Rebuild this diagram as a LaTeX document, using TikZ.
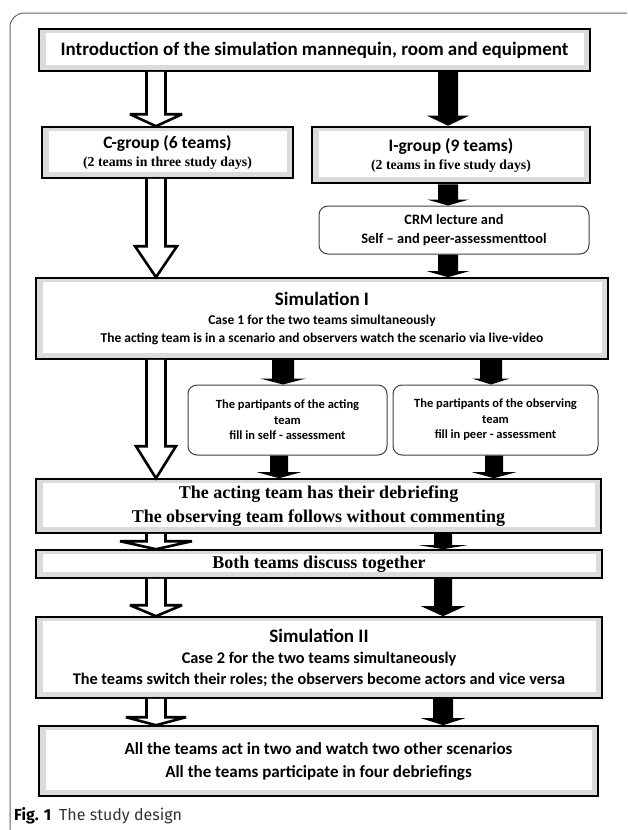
\documentclass[tikz,border=0pt]{standalone}
\usepackage{fontspec}
\setmainfont{Carlito}
\newfontfamily\cambr{Liberation Serif}
\newfontfamily\figfont{Fira Sans}
\usetikzlibrary{calc}

\begin{document}
\begin{tikzpicture}[x=1pt,y=-1pt,
  gbox/.style={draw,line width=1.6pt,fill=black!14,inner sep=0pt,align=center,
    path picture={\fill[white] ([shift={(7pt,6pt)}]path picture bounding box.south west)
      rectangle ([shift={(-6pt,-4pt)}]path picture bounding box.north east);}},
  rbox/.style={draw=black!75,line width=1pt,rounded corners=9pt,fill=white,inner sep=0pt,align=center},
  barrow/.style n args={3}{to path={let \p1=(\tikztostart),\p2=(\tikztotarget) in
    (\x1-#1,\y1) -- (\x1-#1,\y2+#3) -- (\x1-#2,\y2+#3) -- (\x1,\y2)
    -- (\x1+#2,\y2+#3) -- (\x1+#1,\y2+#3) -- (\x1+#1,\y1)}},
  hollow/.style={draw,line width=2.6pt,fill=white,miter limit=3},
  blackfill/.style={fill=black}]
\useasboundingbox (0,0) rectangle (627,830);
\draw[black!60,line width=1pt,rounded corners=14pt] (627,13) -- (10,13) -- (10,832);

\node[gbox,minimum width=551pt,minimum height=42pt,font=\fontsize{19}{22}\selectfont\bfseries] (intro) at (314.5,50)
  {Introduction of the simulation mannequin, room and equipment};
\node[gbox,minimum width=251pt,minimum height=51pt,font=\fontsize{17.5}{18}\selectfont\bfseries] (cgrp) at (167.5,152.5)
  {C-group (6 teams)\\{\cambr\fontsize{13.8}{16}\selectfont\bfseries (2 teams in three study days)}};
\node[gbox,line width=2.6pt,minimum width=278pt,minimum height=56pt,font=\fontsize{17.5}{18}\selectfont\bfseries] (igrp) at (451,155)
  {I-group (9 teams)\\{\cambr\fontsize{13.8}{16}\selectfont\bfseries (2 teams in five study days)}};
\node[rbox,minimum width=270pt,minimum height=48pt,font=\fontsize{14.4}{19}\selectfont\bfseries] (crm) at (454,230)
  {CRM lecture and\\Self – and peer-assessmenttool};
\node[gbox,minimum width=572pt,minimum height=81pt,font=\fontsize{13.5}{18.5}\selectfont\bfseries] (sim1) at (322,318.5)
  {{\fontsize{19}{18}\selectfont Simulation I}\\Case 1 for the two teams simultaneously\\
   The acting team is in a scenario and observers watch the scenario via live-video};
\node[rbox,minimum width=199pt,minimum height=70pt,font=\fontsize{12.5}{15.5}\selectfont\bfseries] (partA) at (287.5,420)
  {The partipants of the acting\\team\\fill in self - assessment};
\node[rbox,minimum width=205pt,minimum height=70pt,font=\fontsize{12.5}{15.5}\selectfont\bfseries] (partB) at (495.5,420)
  {The partipants of the observing\\team\\fill in peer - assessment};
\node[gbox,minimum width=565pt,minimum height=54pt,font=\cambr\fontsize{18}{24}\selectfont\bfseries] (debrief) at (318.5,506)
  {The acting team has their debriefing\\The observing team follows without commenting};
\node[gbox,minimum width=566pt,minimum height=28pt,font=\cambr\fontsize{18}{22}\selectfont\bfseries] (discuss) at (319,564)
  {Both teams discuss together};
\node[gbox,minimum width=566pt,minimum height=81pt,font=\fontsize{16.3}{21}\selectfont\bfseries] (sim2) at (319,657.5)
  {{\fontsize{19}{21}\selectfont Simulation II}\\Case 2 for the two teams simultaneously\\
   The teams switch their roles; the observers become actors and vice versa};
\node[gbox,minimum width=559pt,minimum height=70pt,font=\fontsize{17}{23}\selectfont\bfseries] (final) at (318.5,761)
  {All the teams act in two and watch two other scenarios\\All the teams participate in four debriefings};
\node[anchor=west,inner sep=0pt,font=\figfont\fontsize{16}{18}\selectfont] (cap) at (14,816)
  {\textbf{Fig. 1}\enspace{\color{black!80}The study design}};

\coordinate (colL) at (156,0);
\coordinate (colR) at (448,0);
\coordinate (colA) at (283,0);
\coordinate (colB) at (491,0);
\coordinate (colA2) at (279,0);
\coordinate (colB2) at (494,0);
\coordinate (colM) at (443,0);

\draw[hollow,barrow={9.5pt}{26pt}{12pt}] (intro.south -| colL) to (cgrp.north -| colL);
\draw[hollow,barrow={9.5pt}{21pt}{31pt}] (cgrp.south -| colL) to (sim1.north -| colL);
\draw[hollow,barrow={9.5pt}{20pt}{32pt}] (sim1.south -| colL) to (debrief.north -| colL);
\draw[hollow,barrow={9.5pt}{36pt}{8pt}] (debrief.south -| colL) to (discuss.north -| colL);
\draw[hollow,barrow={9.5pt}{26pt}{11pt}] (discuss.south -| colL) to (sim2.north -| colL);
\draw[hollow,barrow={9.5pt}{30pt}{8pt}] (sim2.south -| colL) to (final.north -| colL);

\fill[blackfill,barrow={10pt}{21pt}{10pt}] (intro.south -| colR) to (igrp.north -| colR);
\fill[blackfill,barrow={10pt}{21pt}{6pt}] (igrp.south -| colR) to (crm.north -| colR);
\fill[blackfill,barrow={10pt}{21pt}{6pt}] (crm.south -| colR) to (sim1.north -| colR);
\fill[blackfill,barrow={11pt}{23pt}{6pt}] (sim1.south -| colA) to (partA.north -| colA);
\fill[blackfill,barrow={11pt}{19pt}{6pt}] (sim1.south -| colB) to (partB.north -| colB);
\fill[blackfill,barrow={9pt}{22pt}{6pt}] (partA.south -| colA2) to (debrief.north -| colA2);
\fill[blackfill,barrow={9pt}{22pt}{6pt}] (partB.south -| colB2) to (debrief.north -| colB2);
\fill[blackfill,barrow={9pt}{24pt}{4pt}] (debrief.south -| colM) to (discuss.north -| colM);
\fill[blackfill,barrow={9pt}{22pt}{10pt}] (discuss.south -| colM) to (sim2.north -| colM);
\fill[blackfill,barrow={10pt}{22pt}{7pt}] (sim2.south -| colM) to (final.north -| colM);
\end{tikzpicture}
\end{document}
